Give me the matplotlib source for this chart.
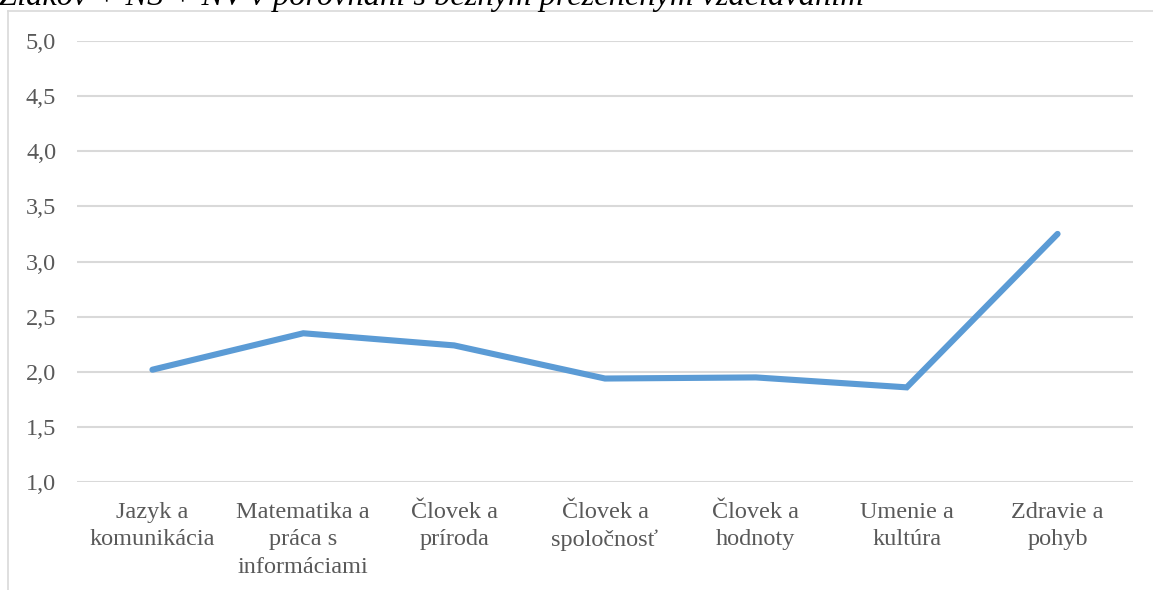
import matplotlib
matplotlib.use("Agg")
import matplotlib.pyplot as plt
from matplotlib.lines import Line2D

# priemerné hodnotenie podľa vzdelávacích oblastí
oblasti = ["Jazyk a\nkomunikácia", "Matematika a\npráca s\ninformáciami", "Človek a\npríroda",
           "Človek a\nspoločnosť", "Človek a\nhodnoty", "Umenie a\nkultúra", "Zdravie a\npohyb"]
hodnoty = [2.02, 2.35, 2.24, 1.94, 1.95, 1.86, 3.25]
y_ticks = [1.0, 1.5, 2.0, 2.5, 3.0, 3.5, 4.0, 4.5, 5.0]
nadpis = "Žiakov + NŠ + NV v porovnaní s bežným prezenčným vzdelávaním"

W, H = 1153, 590
plt.rcParams['font.family'] = ['Liberation Serif', 'DejaVu Serif']

fig = plt.figure(figsize=(W / 100, H / 100), dpi=100)
ax = fig.add_axes([77 / W, 1 - 482.3 / H, (1133 - 77) / W, (482.3 - 40.7) / H])

x = list(range(len(oblasti)))
ax.plot(x, hodnoty, color="#5B9BD5", lw=4.4, solid_capstyle="round", solid_joinstyle="miter", zorder=3)

ax.set_xlim(-0.5, len(oblasti) - 0.5)
ax.set_ylim(1.0, 5.0)
ax.set_yticks(y_ticks)
ax.set_yticklabels([f"{v:.1f}".replace(".", ",") for v in y_ticks])
ax.set_xticks(x)
ax.set_xticklabels(oblasti, linespacing=1.4)
ax.tick_params(axis="both", length=0, labelsize=17.5, colors="#595959")
ax.tick_params(axis="y", pad=15)
ax.tick_params(axis="x", pad=14)
for lbl in ax.get_xticklabels():
    lbl.set_verticalalignment("top")

ax.grid(axis="y", color="#D9D9D9", lw=1.5, zorder=0)
for s in ax.spines.values():
    s.set_visible(False)

# rámček grafu, ktorý pokračuje za okraj obrázka
fig.add_artist(Line2D([8 / W, 1.0], [1 - 11 / H] * 2, color="#D9D9D9", lw=1.2, transform=fig.transFigure))
fig.add_artist(Line2D([8 / W] * 2, [0.0, 1 - 11 / H], color="#D9D9D9", lw=1.2, transform=fig.transFigure))

# popis nad grafom, orezaný horným okrajom strany
fig.text(-1 / W, 1 - 4.5 / H, nadpis, fontsize=23.4, style="italic", color="black",
         ha="left", va="baseline")

fig.savefig("out.png", dpi=100)
